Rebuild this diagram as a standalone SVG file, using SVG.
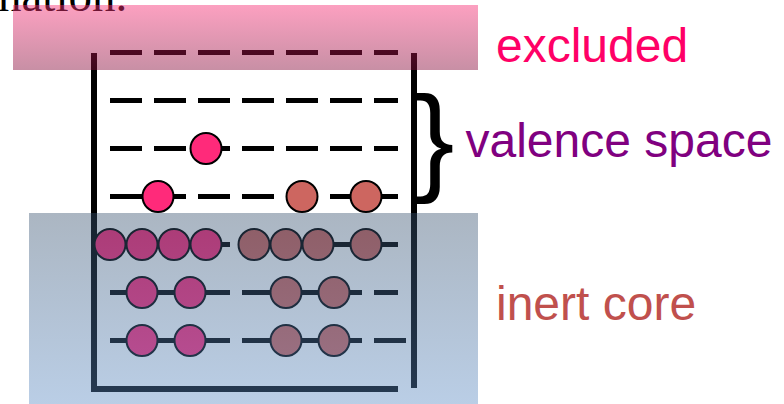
<svg xmlns="http://www.w3.org/2000/svg" width="784" height="404" viewBox="0 0 784 404">
<defs>
<linearGradient id="gPink" x1="0" y1="0" x2="0" y2="1">
<stop offset="0" stop-color="rgb(248,48,118)"/>
<stop offset="1" stop-color="rgb(135,12,59)"/>
</linearGradient>
<linearGradient id="gBlue" x1="0" y1="0" x2="0" y2="1">
<stop offset="0" stop-color="rgb(55,81,110)"/>
<stop offset="1" stop-color="rgb(90,138,195)"/>
</linearGradient>
</defs>
<style>
.lvl{stroke:#000;stroke-width:5;stroke-dasharray:32 12;fill:none}
.wall{stroke:#000;stroke-width:6;fill:none}
.ep{fill:#ff2a7a;stroke:#000;stroke-width:2}
.eb{fill:#cd6660;stroke:#000;stroke-width:2}
.lbl{font-family:"Liberation Sans",Arial,sans-serif;font-size:48px}
</style>
<rect width="784" height="404" fill="#fff"/>
<text x="-2" y="11" font-family="'Liberation Serif',serif" font-size="47" fill="#000">nation.</text>
<g id="levels">
<line class="lvl" x1="110" y1="52.5" x2="398" y2="52.5"/>
<line class="lvl" x1="110" y1="100.5" x2="398" y2="100.5"/>
<line class="lvl" x1="110" y1="148.5" x2="398" y2="148.5"/>
<line class="lvl" x1="110" y1="196.5" x2="398" y2="196.5"/>
<line class="lvl" x1="110" y1="244.5" x2="398" y2="244.5"/>
<line class="lvl" x1="110" y1="292.5" x2="398" y2="292.5"/>
<line class="lvl" x1="110" y1="340.5" x2="406" y2="340.5"/>
</g>
<g id="box">
<path class="wall" d="M94 53V389H398"/>
<line class="wall" x1="414" y1="53" x2="414" y2="388"/>
</g>
<g id="electrons">
<circle class="ep" cx="206" cy="148.5" r="15.5"/>
<circle class="ep" cx="158" cy="196.5" r="15.5"/>
<circle class="eb" cx="302" cy="196.5" r="15.5"/>
<circle class="eb" cx="366" cy="196.5" r="15.5"/>
<circle class="ep" cx="110" cy="244.5" r="15.5"/>
<circle class="ep" cx="142" cy="244.5" r="15.5"/>
<circle class="ep" cx="174" cy="244.5" r="15.5"/>
<circle class="ep" cx="206" cy="244.5" r="15.5"/>
<circle class="eb" cx="254" cy="244.5" r="15.5"/>
<circle class="eb" cx="286" cy="244.5" r="15.5"/>
<circle class="eb" cx="318" cy="244.5" r="15.5"/>
<circle class="eb" cx="366" cy="244.5" r="15.5"/>
<circle class="ep" cx="142" cy="292.5" r="15.5"/>
<circle class="ep" cx="190" cy="292.5" r="15.5"/>
<circle class="eb" cx="286" cy="292.5" r="15.5"/>
<circle class="eb" cx="334" cy="292.5" r="15.5"/>
<circle class="ep" cx="142" cy="340.5" r="15.5"/>
<circle class="ep" cx="190" cy="340.5" r="15.5"/>
<circle class="eb" cx="286" cy="340.5" r="15.5"/>
<circle class="eb" cx="334" cy="340.5" r="15.5"/>
</g>
<g id="excluded-band">
<rect x="13" y="5" width="465" height="65" fill="url(#gPink)" opacity="0.46"/>
</g>
<g id="core-band">
<rect x="29" y="213" width="449" height="191" fill="url(#gBlue)" opacity="0.42"/>
</g>
<g id="brace">
<text x="415" y="179" font-family="'Liberation Sans',Arial,sans-serif" font-size="118" fill="#000">}</text>
</g>
<g id="label-excluded"><text class="lbl" x="496" y="62" fill="#ff0066">excluded</text></g>
<g id="label-valence"><text class="lbl" x="465.5" y="157" fill="#800080">valence space</text></g>
<g id="label-core"><text class="lbl" x="496" y="320" fill="#c0504d">inert core</text></g>
</svg>
